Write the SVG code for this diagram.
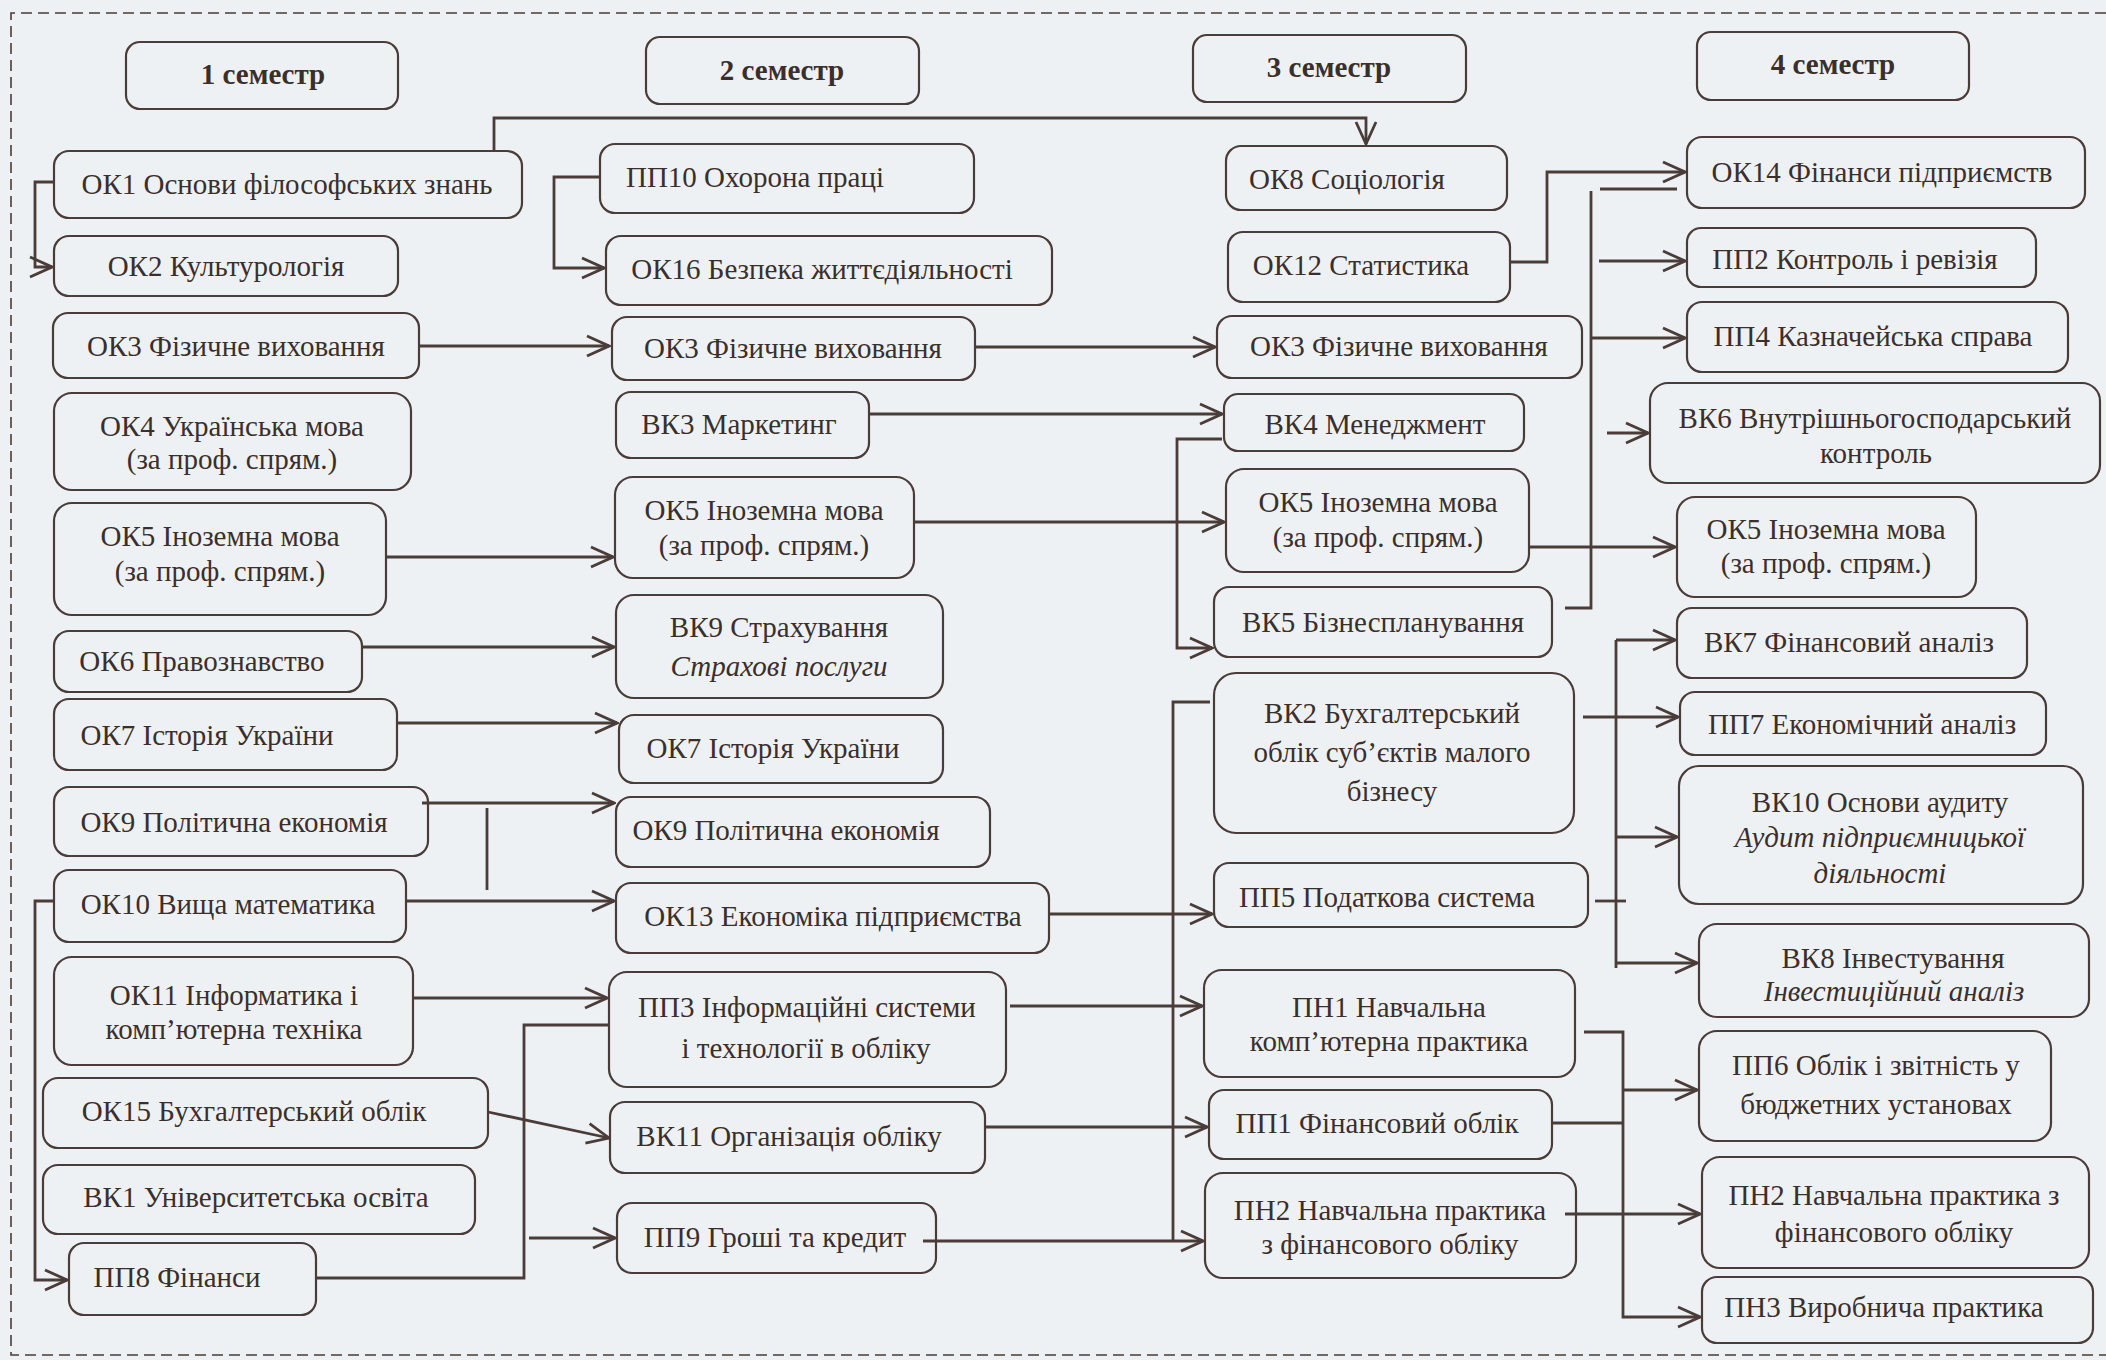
<svg xmlns="http://www.w3.org/2000/svg" width="2106" height="1360" viewBox="0 0 2106 1360">
<style>
.n rect{fill:none;stroke:#4a3c39;stroke-width:2.2}
text{font-family:"Liberation Serif","Times New Roman",serif;font-size:29px;fill:#3b2f2c;text-anchor:middle}
.b{font-weight:bold}
.i{font-style:italic}
.c path{fill:none;stroke:#4a3c39;stroke-width:2.8}
.c path.a{marker-end:url(#ar)}
</style>
<defs>
<marker id="ar" markerUnits="userSpaceOnUse" viewBox="-26 -13 28 26" refX="0" refY="0" markerWidth="28" markerHeight="26" orient="auto">
<path d="M-22,-10 L0,0 L-22,10" fill="none" stroke="#4a3c39" stroke-width="2.8"/>
</marker>
</defs>
<rect x="0" y="0" width="2106" height="1360" fill="#eef1f3"/>
<path d="M2106,13 H11 V1355 H2106" fill="none" stroke="#4a3c39" stroke-width="1.6" stroke-dasharray="11 6"/>

<g class="c">
<path class="a" d="M494,151 V118 H1366 V144"/>
<path class="a" d="M54,182 H35 V267 H52"/>
<path class="a" d="M419,346 H609"/>
<path class="a" d="M386,557 H613"/>
<path class="a" d="M362,647 H614"/>
<path class="a" d="M397,723 H617"/>
<path class="a" d="M422,803 H614"/>
<path d="M487,808 V890"/>
<path class="a" d="M406,901 H614"/>
<path class="a" d="M54,901 H35 V1280 H67"/>
<path class="a" d="M413,998 H607"/>
<path class="a" d="M488,1112 L609,1138"/>
<path d="M316,1278 H524 V1025 H609"/>
<path class="a" d="M529,1238 H615"/>
<path class="a" d="M600,177 H554 V268 H604"/>
<path class="a" d="M975,347 H1215"/>
<path class="a" d="M869,414 H1222"/>
<path class="a" d="M1222,439 H1177 V648 H1212"/>
<path class="a" d="M914,522 H1224"/>
<path class="a" d="M1510,262 H1547 V172 H1685"/>
<path d="M1565,608 H1591 V191"/>
<path d="M1600,189 H1677"/>
<path class="a" d="M1599,261 H1685"/>
<path class="a" d="M1591,338 H1685"/>
<path class="a" d="M1607,433 H1648"/>
<path class="a" d="M1529,547 H1675"/>
<path class="a" d="M1583,717 H1678"/>
<path d="M1616,640 V968"/>
<path class="a" d="M1616,640 H1675"/>
<path class="a" d="M1616,837 H1677"/>
<path class="a" d="M1616,963 H1697"/>
<path d="M1595,901 H1626"/>
<path d="M1210,702 H1173 V1242"/>
<path class="a" d="M1049,914 H1212"/>
<path class="a" d="M1010,1006 H1202"/>
<path class="a" d="M985,1127 H1207"/>
<path class="a" d="M923,1241 H1203"/>
<path class="a" d="M1584,1032 H1623 V1317 H1700"/>
<path class="a" d="M1623,1090 H1697"/>
<path d="M1552,1123 H1623"/>
<path class="a" d="M1565,1214 H1700"/>
</g>

<g id="h1" class="n"><rect x="126" y="42" width="272" height="67" rx="14"/><text class="b" x="263" y="84">1 семестр</text></g>
<g id="h2" class="n"><rect x="646" y="37" width="273" height="67" rx="14"/><text class="b" x="782" y="80">2 семестр</text></g>
<g id="h3" class="n"><rect x="1193" y="35" width="273" height="67" rx="14"/><text class="b" x="1329" y="77">3 семестр</text></g>
<g id="h4" class="n"><rect x="1697" y="32" width="272" height="68" rx="14"/><text class="b" x="1833" y="74">4 семестр</text></g>

<g id="ok1" class="n"><rect x="54" y="151" width="468" height="67" rx="15"/><text x="287" y="194">ОК1 Основи філософських знань</text></g>
<g id="ok2" class="n"><rect x="54" y="236" width="344" height="60" rx="15"/><text x="226" y="276">ОК2 Культурологія</text></g>
<g id="ok3-1" class="n"><rect x="53" y="313" width="366" height="65" rx="15"/><text x="236" y="356">ОК3 Фізичне виховання</text></g>
<g id="ok4" class="n"><rect x="54" y="393" width="357" height="97" rx="18"/><text x="232" y="436">ОК4 Українська мова</text><text x="232" y="469">(за проф. спрям.)</text></g>
<g id="ok5-1" class="n"><rect x="54" y="503" width="332" height="112" rx="18"/><text x="220" y="546">ОК5 Іноземна мова</text><text x="220" y="581">(за проф. спрям.)</text></g>
<g id="ok6" class="n"><rect x="54" y="631" width="308" height="61" rx="15"/><text x="202" y="671">ОК6 Правознавство</text></g>
<g id="ok7-1" class="n"><rect x="54" y="699" width="343" height="71" rx="15"/><text x="207" y="745">ОК7 Історія України</text></g>
<g id="ok9-1" class="n"><rect x="54" y="787" width="374" height="69" rx="15"/><text x="234" y="832">ОК9 Політична економія</text></g>
<g id="ok10" class="n"><rect x="54" y="870" width="352" height="72" rx="15"/><text x="228" y="914">ОК10 Вища математика</text></g>
<g id="ok11" class="n"><rect x="54" y="957" width="359" height="108" rx="18"/><text x="234" y="1005">ОК11 Інформатика і</text><text x="234" y="1039">комп’ютерна техніка</text></g>
<g id="ok15" class="n"><rect x="43" y="1078" width="445" height="70" rx="15"/><text x="254" y="1121">ОК15 Бухгалтерський облік</text></g>
<g id="vk1" class="n"><rect x="43" y="1165" width="432" height="69" rx="15"/><text x="256" y="1207">ВК1 Університетська освіта</text></g>
<g id="pp8" class="n"><rect x="69" y="1243" width="247" height="72" rx="15"/><text x="177" y="1287">ПП8 Фінанси</text></g>

<g id="pp10" class="n"><rect x="600" y="144" width="374" height="69" rx="15"/><text x="755" y="187">ПП10 Охорона праці</text></g>
<g id="ok16" class="n"><rect x="606" y="236" width="446" height="69" rx="15"/><text x="822" y="279">ОК16 Безпека життєдіяльності</text></g>
<g id="ok3-2" class="n"><rect x="612" y="317" width="363" height="63" rx="15"/><text x="793" y="358">ОК3 Фізичне виховання</text></g>
<g id="vk3" class="n"><rect x="616" y="392" width="253" height="66" rx="15"/><text x="739" y="434">ВК3 Маркетинг</text></g>
<g id="ok5-2" class="n"><rect x="615" y="477" width="299" height="101" rx="18"/><text x="764" y="520">ОК5 Іноземна мова</text><text x="764" y="555">(за проф. спрям.)</text></g>
<g id="vk9" class="n"><rect x="616" y="595" width="327" height="103" rx="18"/><text x="779" y="637">ВК9 Страхування</text><text class="i" x="779" y="676">Страхові послуги</text></g>
<g id="ok7-2" class="n"><rect x="619" y="715" width="324" height="68" rx="15"/><text x="773" y="758">ОК7 Історія України</text></g>
<g id="ok9-2" class="n"><rect x="616" y="797" width="374" height="70" rx="15"/><text x="786" y="840">ОК9 Політична економія</text></g>
<g id="ok13" class="n"><rect x="616" y="883" width="433" height="70" rx="15"/><text x="833" y="926">ОК13 Економіка підприємства</text></g>
<g id="pp3" class="n"><rect x="609" y="972" width="397" height="115" rx="18"/><text x="807" y="1017">ПП3 Інформаційні системи</text><text x="806" y="1058">і технології в обліку</text></g>
<g id="vk11" class="n"><rect x="610" y="1102" width="375" height="71" rx="15"/><text x="789" y="1146">ВК11 Організація обліку</text></g>
<g id="pp9" class="n"><rect x="617" y="1203" width="319" height="70" rx="15"/><text x="775" y="1247">ПП9 Гроші та кредит</text></g>

<g id="ok8" class="n"><rect x="1226" y="146" width="281" height="64" rx="15"/><text x="1347" y="189">ОК8 Соціологія</text></g>
<g id="ok12" class="n"><rect x="1228" y="232" width="282" height="70" rx="15"/><text x="1361" y="275">ОК12 Статистика</text></g>
<g id="ok3-3" class="n"><rect x="1217" y="316" width="365" height="62" rx="15"/><text x="1399" y="356">ОК3 Фізичне виховання</text></g>
<g id="vk4" class="n"><rect x="1224" y="394" width="300" height="57" rx="14"/><text x="1375" y="434">ВК4 Менеджмент</text></g>
<g id="ok5-3" class="n"><rect x="1226" y="469" width="303" height="103" rx="18"/><text x="1378" y="512">ОК5 Іноземна мова</text><text x="1378" y="547">(за проф. спрям.)</text></g>
<g id="vk5" class="n"><rect x="1214" y="587" width="338" height="70" rx="15"/><text x="1383" y="632">ВК5 Бізнеспланування</text></g>
<g id="vk2" class="n"><rect x="1214" y="673" width="360" height="160" rx="22"/><text x="1392" y="723">ВК2 Бухгалтерський</text><text x="1392" y="762">облік суб’єктів малого</text><text x="1392" y="801">бізнесу</text></g>
<g id="pp5" class="n"><rect x="1214" y="863" width="374" height="64" rx="15"/><text x="1387" y="907">ПП5 Податкова система</text></g>
<g id="pn1" class="n"><rect x="1204" y="970" width="371" height="107" rx="18"/><text x="1389" y="1017">ПН1 Навчальна</text><text x="1389" y="1051">комп’ютерна практика</text></g>
<g id="pp1" class="n"><rect x="1209" y="1090" width="343" height="69" rx="15"/><text x="1377" y="1133">ПП1 Фінансовий облік</text></g>
<g id="pn2-3" class="n"><rect x="1205" y="1173" width="371" height="105" rx="18"/><text x="1390" y="1220">ПН2 Навчальна практика</text><text x="1390" y="1254">з фінансового обліку</text></g>

<g id="ok14" class="n"><rect x="1687" y="137" width="398" height="71" rx="15"/><text x="1882" y="182">ОК14 Фінанси підприємств</text></g>
<g id="pp2" class="n"><rect x="1687" y="228" width="349" height="59" rx="14"/><text x="1855" y="269">ПП2 Контроль і ревізія</text></g>
<g id="pp4" class="n"><rect x="1687" y="302" width="381" height="70" rx="15"/><text x="1873" y="346">ПП4 Казначейська справа</text></g>
<g id="vk6" class="n"><rect x="1650" y="383" width="450" height="100" rx="18"/><text x="1875" y="428">ВК6 Внутрішньогосподарський</text><text x="1876" y="463">контроль</text></g>
<g id="ok5-4" class="n"><rect x="1677" y="497" width="299" height="100" rx="18"/><text x="1826" y="539">ОК5 Іноземна мова</text><text x="1826" y="573">(за проф. спрям.)</text></g>
<g id="vk7" class="n"><rect x="1677" y="608" width="350" height="70" rx="15"/><text x="1849" y="652">ВК7 Фінансовий аналіз</text></g>
<g id="pp7" class="n"><rect x="1680" y="692" width="366" height="63" rx="15"/><text x="1862" y="734">ПП7 Економічний аналіз</text></g>
<g id="vk10" class="n"><rect x="1679" y="766" width="404" height="138" rx="20"/><text x="1880" y="812">ВК10 Основи аудиту</text><text class="i" x="1880" y="847">Аудит підприємницької</text><text class="i" x="1880" y="883">діяльності</text></g>
<g id="vk8" class="n"><rect x="1699" y="924" width="390" height="93" rx="18"/><text x="1893" y="968">ВК8 Інвестування</text><text class="i" x="1894" y="1001">Інвестиційний аналіз</text></g>
<g id="pp6" class="n"><rect x="1699" y="1031" width="352" height="110" rx="18"/><text x="1876" y="1075">ПП6 Облік і звітність у</text><text x="1876" y="1114">бюджетних установах</text></g>
<g id="pn2-4" class="n"><rect x="1702" y="1157" width="387" height="111" rx="18"/><text x="1894" y="1205">ПН2 Навчальна практика з</text><text x="1894" y="1242">фінансового обліку</text></g>
<g id="pn3" class="n"><rect x="1702" y="1277" width="391" height="66" rx="15"/><text x="1884" y="1317">ПН3 Виробнича практика</text></g>
</svg>
